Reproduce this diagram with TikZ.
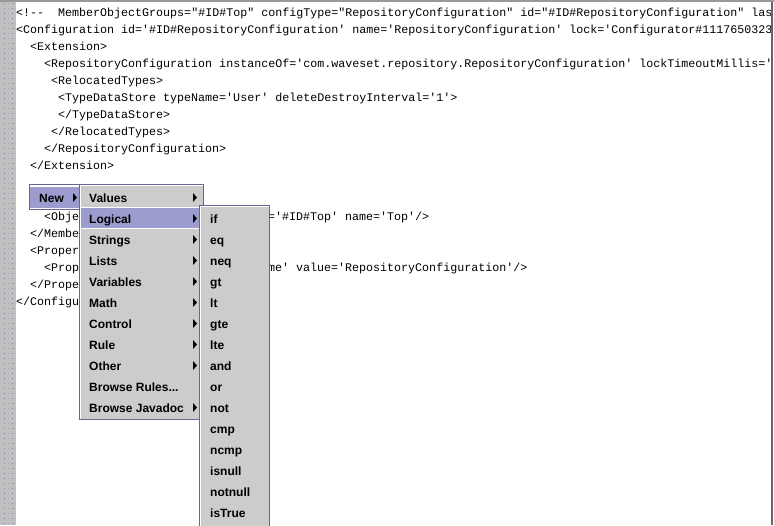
\documentclass[tikz,border=0pt]{standalone}
\usepackage{fontspec}
\setsansfont{Liberation Sans}
\newfontfamily\codefont{Liberation Mono}
\definecolor{gutter}{HTML}{C0C0C0}
\definecolor{menugray}{HTML}{CCCCCC}
\definecolor{menuedge}{HTML}{666699}
\definecolor{menupick}{HTML}{9C9CCE}
\tikzset{
	codeline/.style={anchor=base west, inner sep=0pt, font=\codefont\fontsize{11.67}{14}\selectfont},
	menuitem/.style={anchor=base west, inner sep=0pt, font=\sffamily\bfseries\fontsize{12}{14}\selectfont},
	menubox/.style={draw=menuedge, fill=menugray, line width=1pt},
	pickrow/.style={fill=menupick, draw=white, line width=1pt},
	subarrow/.style={fill=black, draw=none}
}
\begin{document}
\begin{tikzpicture}[x=1pt, y=-1pt]
	\useasboundingbox (0,0) rectangle (774,525);
	\def\rowh{21}

	% Draw window edges and gutter
	\fill[white] (0,0) rectangle (774,525);
	\fill[gutter] (0,0) rectangle (16,525);
	\foreach \dy in {3,8,...,523} {
		\fill[menupick!80!black] (4,\dy) rectangle +(1,1);
		\fill[black!35] (8,\dy) rectangle +(1,1);
		\fill[menupick!80!black] (12,\dy) rectangle +(1,1);
	}

	% Code lines
	\node[codeline] (line1) at (16,16.5) {<!--\ \ MemberObjectGroups="\#ID\#Top" configType="RepositoryConfiguration" id="\#ID\#RepositoryConfiguration" las};
	\node[codeline] (line2) at (16,33.5) {<Configuration id='\#ID\#RepositoryConfiguration' name='RepositoryConfiguration' lock='Configurator\#1117650323};
	\node[codeline] (line3) at (30,50.5) {<Extension>};
	\node[codeline] (line4) at (44,67.5) {<RepositoryConfiguration instanceOf='com.waveset.repository.RepositoryConfiguration' lockTimeoutMillis='};
	\node[codeline] (line5) at (51,84.5) {<RelocatedTypes>};
	\node[codeline] (line6) at (58,101.5) {<TypeDataStore typeName='User' deleteDestroyInterval='1'>};
	\node[codeline] (line7) at (58,118.5) {</TypeDataStore>};
	\node[codeline] (line8) at (51,135.5) {</RelocatedTypes>};
	\node[codeline] (line9) at (44,152.5) {</RepositoryConfiguration>};
	\node[codeline] (line10) at (30,169.5) {</Extension>};
	\node[codeline] (line11) at (44,220.5) {<Obje};
	\node[codeline] (line11b) at (268,220.5) {='\#ID\#Top' name='Top'/>};
	\node[codeline] (line12) at (30,237.5) {</Membe};
	\node[codeline] (line13) at (30,254.5) {<Proper};
	\node[codeline] (line14) at (44,271.5) {<Prop};
	\node[codeline] (line14b) at (268,271.5) {me' value='RepositoryConfiguration'/>};
	\node[codeline] (line15) at (30,288.5) {</Prope};
	\node[codeline] (line16) at (16,305.5) {</Configu};

	% Edges go over the code so long lines stop at the frame
	\fill[gray!80] (0,0) rectangle (774,2);
	\fill[black!60] (771,2) rectangle (773,525);
	\fill[white] (773,2) rectangle (774,525);

	% New button
	\draw[menuedge, fill=white, line width=1pt] (29.5,184.5) rectangle (80,209.5);
	\fill[menupick] (30,187) rectangle (80,208);
	\node[menuitem] (new) at (39,202) {New};
	\fill[subarrow] (73,193) -- (77,197.5) -- (73,202) -- cycle;

	% First menu
	\draw[menubox] (79.5,184.5) rectangle (203.5,419.5);
	\draw[white, line width=1pt] (80.5,419) -- (80.5,185.5) -- (203,185.5);
	\draw[pickrow] (80,207.5) rectangle (199,228.5);
	\node[menuitem] (values) at (89,202) {Values};
	\node[menuitem] (logical) at (89,223) {Logical};
	\node[menuitem] (strings) at (89,244) {Strings};
	\node[menuitem] (lists) at (89,265) {Lists};
	\node[menuitem] (variables) at (89,286) {Variables};
	\node[menuitem] (math) at (89,307) {Math};
	\node[menuitem] (control) at (89,328) {Control};
	\node[menuitem] (rule) at (89,349) {Rule};
	\node[menuitem] (other) at (89,370) {Other};
	\node[menuitem] (browserules) at (89,391) {Browse Rules...};
	\node[menuitem] (browsejavadoc) at (89,412) {Browse Javadoc};
	\foreach \i in {0,...,8,10} {
		\fill[subarrow] (193,193+\i*\rowh) -- (197,197.5+\i*\rowh) -- (193,202+\i*\rowh) -- cycle;
	}

	% Second menu runs off the bottom
	\draw[menubox] (199.5,530) -- (199.5,205.5) -- (269.5,205.5) -- (269.5,530);
	\draw[white, line width=1pt] (200.5,530) -- (200.5,206.5) -- (269,206.5);
	\foreach \n/\lbl [count=\i from 0] in {a/if,b/eq,c/neq,d/gt,e/lt,f/gte,g/lte,h/and,j/or,k/not,l/cmp,m/ncmp,n/isnull,o/notnull,p/isTrue} {
		\node[menuitem] (logic\n) at (210,223+\i*\rowh) {\lbl};
	}
\end{tikzpicture}
\end{document}
